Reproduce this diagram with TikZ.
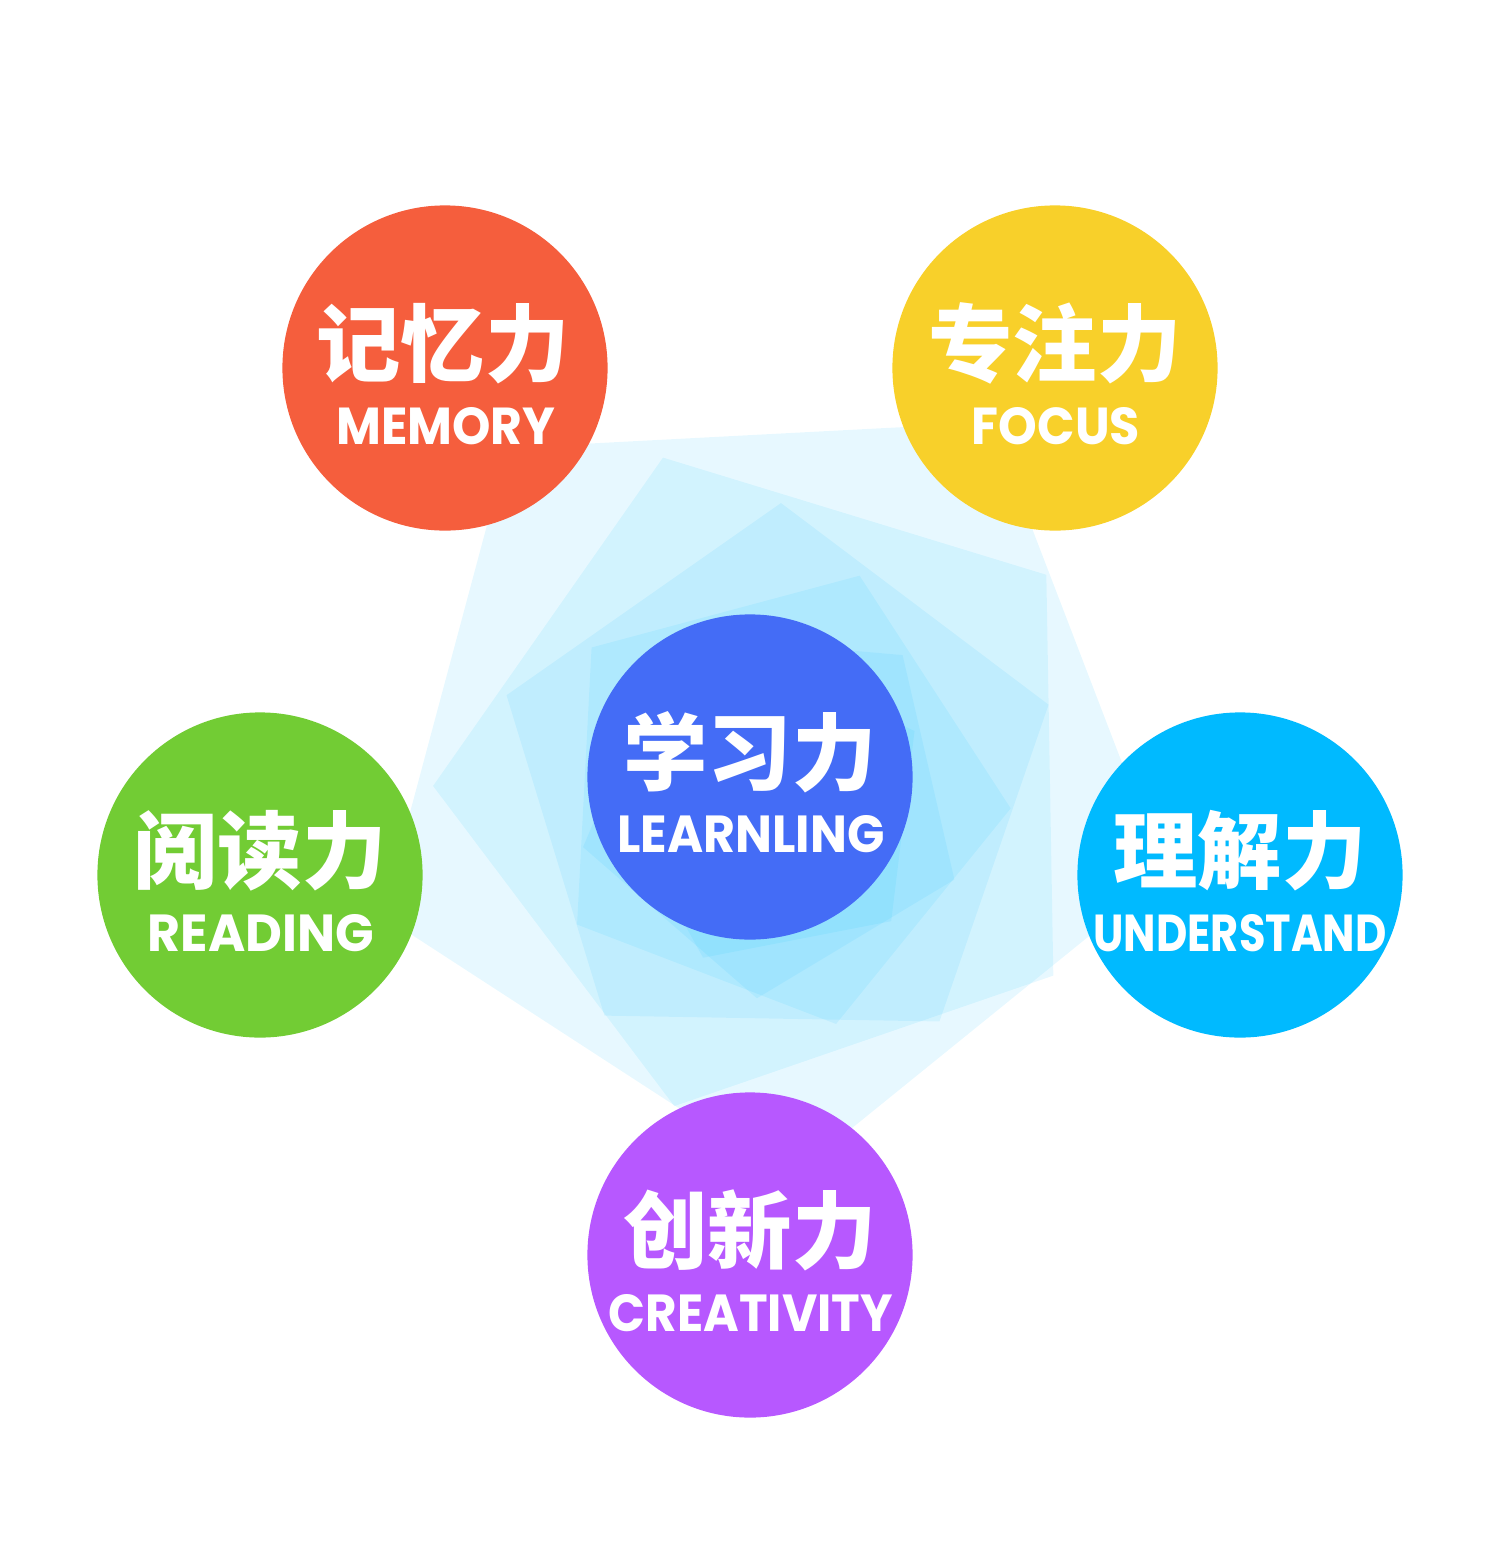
\documentclass[tikz,border=0pt]{standalone}
\usepackage{fontspec}
\setmainfont{Poppins}
\newfontfamily\cjk{Noto Sans CJK SC}
\usetikzlibrary{positioning}
\definecolor{pentblue}{RGB}{40,195,252}
\definecolor{memorycol}{RGB}{245,94,61}
\definecolor{focuscol}{RGB}{248,208,42}
\definecolor{readingcol}{RGB}{114,204,52}
\definecolor{understandcol}{RGB}{0,186,255}
\definecolor{creativitycol}{RGB}{183,88,255}
\definecolor{learningcol}{RGB}{68,108,246}
\tikzstyle{ball} = [circle, inner sep = 0pt, minimum size = 3.25cm]
\tikzstyle{zh} = [text = white, anchor = base, inner sep = 0pt, font = \cjk\bfseries\fontsize{24pt}{24pt}\selectfont]
\tikzstyle{en} = [text = white, anchor = base, inner sep = 0pt, font = \bfseries]
\tikzstyle{pent} = [fill = pentblue, fill opacity = 0.11]
\newcommand{\caps}[2]{\resizebox{#1}{0.37cm}{#2}}

\begin{document}
\begin{tikzpicture}[x = 0.01cm, y = -0.01cm]
			\useasboundingbox (0,0) rectangle (1500,1557);
			
			\foreach \k/\cx/\cy/\rad in {0/767/768/412, 1/774/780/341, 2/776/788/285, 3/775/796/236, 4/774/803/196, 5/772/810/163} {
				\pgfmathsetmacro{\rot}{15 + 20*\k}
				\fill [pent] (\cx,\cy) +({\rot}:\rad) -- +({\rot+72}:\rad) -- +({\rot+144}:\rad) -- +({\rot+216}:\rad) -- +({\rot+288}:\rad) -- cycle;
			}
			
			\node [ball, fill = memorycol] (memory) at (445,368) {};
			\node [ball, fill = focuscol] (focus) at (1055,368) {};
			\node [ball, fill = readingcol] (reading) at (260,875) {};
			\node [ball, fill = understandcol] (understand) at (1240,875) {};
			\node [ball, fill = creativitycol] (creativity) at (750,1255) {};
			\node [ball, fill = learningcol] (learning) at (750,777) {};
			
			\node [zh] (memory-zh) at (443,375) {记忆力};
			\node [en] (memory-en) at (446,444) {\caps{2.19cm}{MEMORY}};
			\node [zh] (focus-zh) at (1055,375) {专注力};
			\node [en] (focus-en) at (1056,444) {\caps{1.68cm}{FOCUS}};
			\node [zh] (reading-zh) at (260,882) {阅读力};
			\node [en] (reading-en) at (261,951) {\caps{2.26cm}{READING}};
			\node [zh] (understand-zh) at (1240,882) {理解力};
			\node [en] (understand-en) at (1240,951) {\caps{2.93cm}{UNDERSTAND}};
			\node [zh] (creativity-zh) at (750,1262) {创新力};
			\node [en] (creativity-en) at (751,1331) {\caps{2.84cm}{CREATIVITY}};
			\node [zh] (learning-zh) at (750,784) {学习力};
			\node [en] (learning-en) at (751,852) {\caps{2.67cm}{LEARNLING}};
		\end{tikzpicture}
\end{document}
